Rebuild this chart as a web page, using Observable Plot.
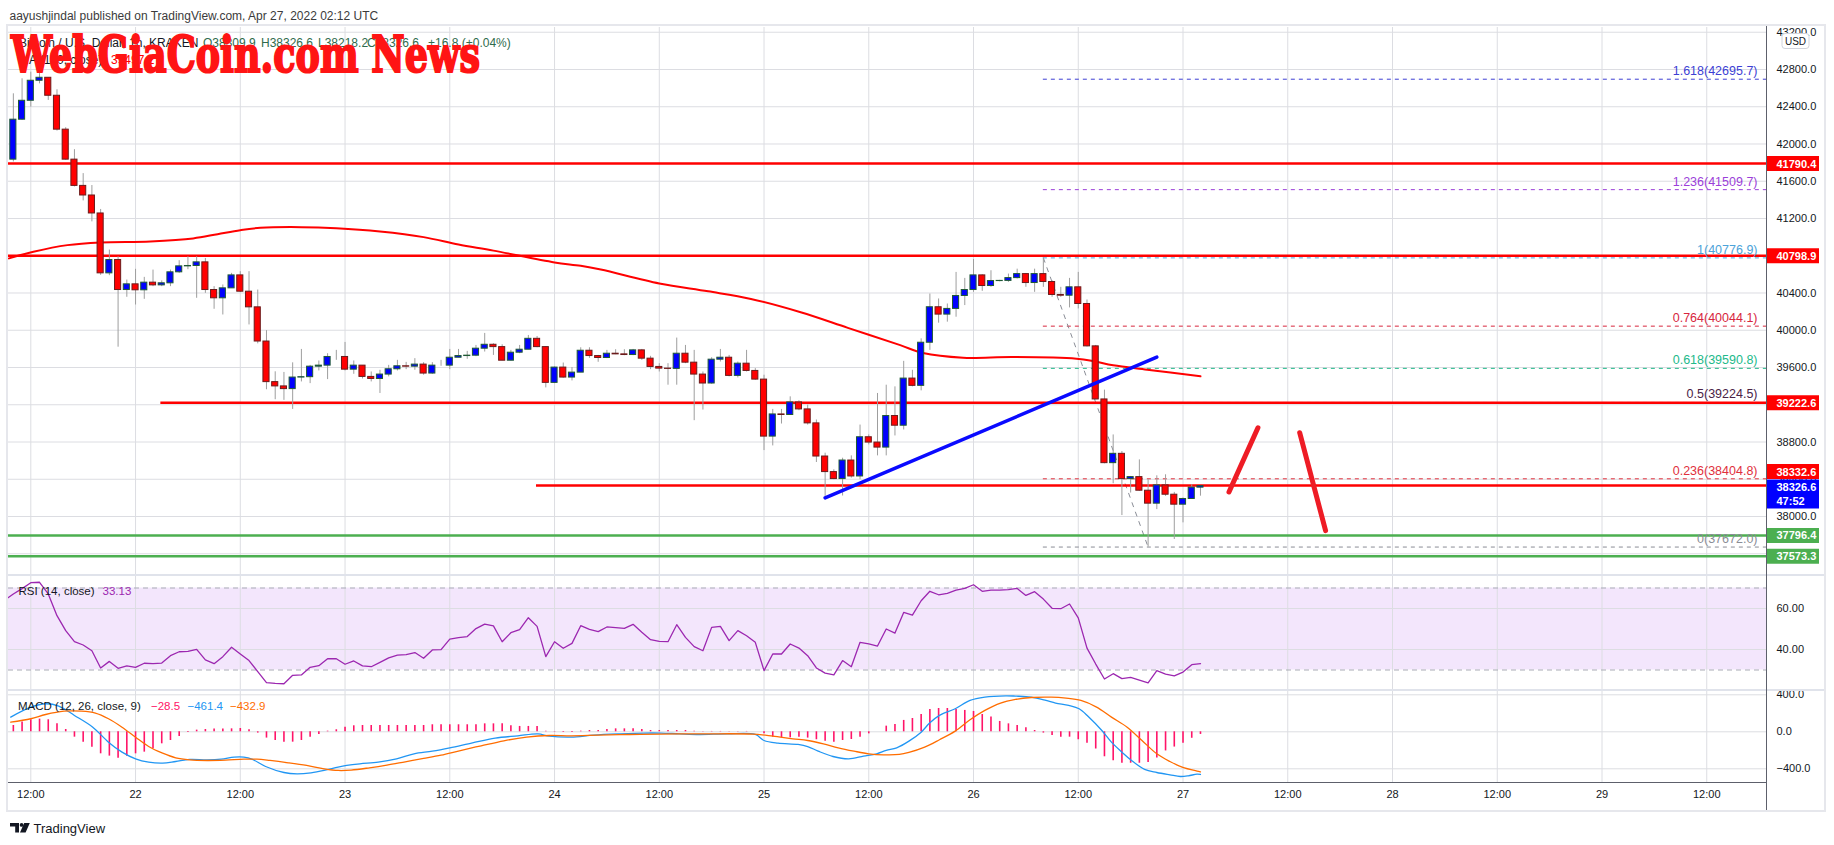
<!DOCTYPE html>
<html><head><meta charset="utf-8">
<script src="https://cdn.jsdelivr.net/npm/d3@7"></script>
<script src="https://cdn.jsdelivr.net/npm/@observablehq/plot@0.6"></script>
<style>
html,body{margin:0;padding:0;background:#fff;}
#wrap{position:relative;width:1834px;height:845px;overflow:hidden;background:#fff;font-family:"Liberation Sans",Arial,sans-serif;}
.ln{position:absolute;}
</style></head><body><div id="wrap"></div>
<script>
// ---------------- DATA ----------------
const candleStart = "2022-04-21T10:00:00Z";   // hourly candles, BTC/USD 1h KRAKEN
const firstOpen = 41832;
const lastOpen = 38309.9;
const closes = [42261,42464,42679,42711,42518,42154,41832,41550,41447,41254,40611,40754,40432,40493,
 40429,40511,40482,40504,40622,40686,40690,40729,40432,40343,40450,40589,40414,40246,39879,39443,39397,39368,39492,39496,39609,39620,39713,39713,
 39577,39620,39499,39477,39524,39581,39613,39609,39631,39535,39620,39620,39705,39723,39727,39802,39844,39819,39673,39759,39791,39908,39819,39435,
 39599,39492,39545,39780,39723,39702,39748,39741,39734,39784,39695,39606,39588,39585,39748,39652,39524,39428,39684,39705,39510,39641,39563,39470,
 38858,39096,39090,39225,39150,39000,38644,38477,38402,38601,38430,38851,38794,38740,39079,38975,39481,39403,39866,40247,40168,40229,40368,40432,
 40589,40475,40528,40530,40560,40603,40507,40603,40518,40379,40371,40461,40282,39827,39257,38573,38673,38402,38423,38277,38138,38334,38234,38127,
 38188,38310,38326.6];
const highs = [42539,42700,42771,42780,42711,42582,42175,41939,41682,41554,41297,40861,40789,40539,
 40654,40568,40646,40530,40646,40747,40789,40789,40771,40468,40486,40611,40629,40629,40432,39996,39554,39547,39650,39794,39623,39670,39748,39784,
 39869,39670,39620,39552,39570,39623,39677,39655,39695,39652,39652,39677,39794,39794,39773,39837,39966,39855,39844,39784,39837,39944,39933,39823,
 39606,39648,39599,39812,39812,39730,39784,39791,39791,39794,39794,39720,39641,39641,39916,39837,39784,39552,39705,39794,39730,39659,39784,39588,
 39517,39150,39150,39285,39243,39196,39036,38680,38502,38626,38651,38982,38876,39321,39410,39392,39666,39570,39908,40389,40336,40282,40621,40557,
 40760,40596,40639,40536,40603,40656,40610,40656,40777,40532,40461,40557,40621,40325,39837,39357,38876,38698,38430,38608,38395,38437,38448,38259,
 38199,38341,38326.6];
const lows = [41807,42254,42396,42646,42468,42139,41825,41539,41389,41164,40590,40586,39818,40354,
 40271,40332,40468,40468,40468,40611,40650,40343,40396,40225,40164,40450,40404,40057,39854,39361,39254,39247,39150,39445,39427,39563,39470,39677,
 39563,39527,39477,39445,39321,39499,39563,39577,39570,39517,39527,39613,39577,39705,39688,39716,39766,39730,39673,39670,39748,39791,39812,39381,
 39427,39485,39456,39545,39698,39656,39695,39738,39727,39727,39677,39577,39552,39410,39410,39641,39029,39143,39420,39659,39499,39488,39552,39463,
 38708,38758,38993,39089,39136,38982,38580,38216,38395,38220,38412,38395,38769,38651,38651,38865,38929,39392,39349,39784,40076,40087,40140,40265,
 40407,40418,40461,40520,40514,40550,40461,40407,40461,40354,40354,40240,40229,39820,39250,38566,38352,38010,38252,38270,37672,38074,38216,37753,
 37932,38188,38218.2];

// MA(100) read at these hours after 2022-04-21 00:00 UTC
const hourBase = "2022-04-21T00:00:00Z";
const maHours  = [9.5,12.3,16.2,20,25.7,30.6,33.4,36,38.3,43,47,52,57,61,65,72,75,77.3,84,89.6,94.5,100.2,105.6,111.6,114.2,118.8,124.5,131.8,133.7,136,139.9,146];
const maValues = [40772,40843,40914,40943,40954,40986,41032,41075,41100,41107,41095,41060,41000,40920,40855,40728,40692,40652,40503,40418,40336,40193,40026,39840,39755,39705,39713,39695,39670,39624,39577,39506];

// RSI(14) hourly
const rsiStart = "2022-04-21T09:00:00Z";
const rsiValues = [64.1,67.1,69.7,72.6,72.8,67.1,56.5,49.2,43.8,42.2,39.4,31.0,34.2,30.8,32.0,
 31.3,33.3,33.1,33.4,37.0,38.9,39.1,40.1,34.9,33.1,36.5,41.1,37.8,34.6,29.2,23.8,23.5,23.3,27.4,27.6,31.3,32.1,35.5,35.5,
 32.8,34.4,32.0,31.6,33.7,35.9,37.3,37.5,38.5,35.7,39.8,39.9,45.1,45.8,46.3,50.2,52.4,51.5,43.8,48.2,49.7,55.5,51.3,36.5,
 43.8,40.6,43.0,51.6,49.8,48.7,51.0,50.7,50.3,52.3,48.4,44.8,44.0,43.8,52.1,45.9,41.4,39.4,50.8,51.3,44.3,49.2,46.7,43.5,
 29.7,37.8,37.8,42.7,40.7,37.0,31.0,28.5,27.6,34.6,31.6,43.5,42.7,41.7,50.0,48.0,58.1,56.8,63.8,68.4,66.7,67.4,69.0,69.8,
 71.6,68.4,69.0,69.0,69.2,69.8,66.4,68.2,64.6,60.1,59.9,62.2,55.4,40.7,32.9,25.6,28.2,25.8,26.4,25.1,23.7,29.7,28.0,27.1,
 29.0,32.6,33.13];
const rsiBand = [30, 70];

// MACD(12,26,9)
const histStart = "2022-04-21T10:00:00Z";
const histValues = [68,105,130,137,130,86,25,-58,-112,-166,-238,-263,-285,-263,
 -238,-220,-184,-130,-94,-50,-7,18,25,29,29,32,36,22,-14,-68,-94,-112,-112,-94,-58,-29,7,22,
 50,65,68,68,68,68,68,68,68,68,76,76,76,76,76,76,86,86,86,65,58,58,58,7,
 -4,-7,-7,7,14,14,25,32,32,32,25,14,14,14,14,14,7,4,4,4,4,4,4,0,
 -22,-58,-65,-65,-58,-68,-86,-101,-112,-94,-83,-58,-22,0,61,79,123,144,187,241,252,252,241,231,
 220,187,159,112,86,68,43,14,-14,-40,-58,-58,-86,-123,-186,-270,-312,-340,-340,-340,-333,-284,-207,-165,
 -123,-70,-28.5];
const macdHours = [9.7,12,13.7,15.2,17,19.1,20.9,22.45,24,25.5,27.1,28.6,30.2,32.2,33.8,35.3,36.4,37.4,38.9,41,42.5,44.1,45.6,47.2,48.2,49.7,51.8,53.9,55.9,58,60,62.6,65.2,67.8,70.1,71.4,73.9,76.5,79.6,82.2,84.2,86.3,88.6,91.8,95,96,97.6,99.9,101,102.2,103.9,105.7,107.4,108.9,110,111.2,112.6,114,115,116.1,117.9,119.6,121.3,123.7,124.8,126.6,128.3,129.4,130.9,132.1,133.2,134.7,135.8,137,138.1,139.6,141,142.5,143.7,144.6,145.6,146];
const macdValues = [159,267,303,278,177,50,-112,-220,-292,-328,-339,-321,-299,-303,-296,-274,-274,-299,-375,-440,-454,-443,-418,-382,-364,-346,-328,-292,-238,-209,-173,-119,-68,-43,-22,-47,-58,-36,-22,-14,-14,-22,-29,-22,-29,-94,-123,-137,-159,-209,-267,-292,-263,-238,-202,-173,-101,-4,97,177,249,339,375,389,386,375,339,310,285,249,159,14,-112,-220,-310,-407,-440,-465,-483,-476,-458,-461.4];
const signalHours = [9.7,12,13.7,15.8,17.8,19.4,20.9,22.45,24,25.5,27.1,28.6,30.2,32.2,34.3,36.4,37.9,39.4,41.5,43.6,45.6,47.2,48.7,50.8,52.8,54.9,57,59,61.1,63.6,66.2,68.8,71.4,73.9,77,80.6,84.2,86.8,89.3,94.7,97,99.3,101,102.8,104.5,106.3,108,109.7,111.5,112.6,114.4,116.1,117.9,119.6,121.3,123.1,124.8,126.6,128.9,130.6,132.3,134.1,135.8,137.6,139.3,141,142.5,143.9,145.6,146];
const signalValues = [105,141,187,223,223,202,141,50,-58,-159,-231,-281,-303,-310,-306,-296,-296,-310,-335,-364,-400,-418,-414,-389,-360,-324,-288,-252,-205,-151,-97,-58,-40,-43,-36,-29,-25,-22,-22,-25,-47,-76,-94,-130,-173,-209,-238,-249,-245,-223,-166,-86,7,130,231,310,350,371,375,364,339,267,159,50,-94,-238,-321,-382,-425,-432.9];

// Drawn levels
const redLevelPrices = [41790.4, 40798.9, 39222.6, 38332.6];
const redLevelStarts = ["2022-04-21T09:26:42Z","2022-04-21T09:26:42Z","2022-04-22T02:54:00Z","2022-04-23T21:56:00Z"];
const greenLevelPrices = [37796.4, 37573.3];
const fibRatios = ["1.618","1.236","1","0.764","0.618","0.5","0.236","0"];
const fibPrices = [42695.7, 41509.7, 40776.9, 40044.1, 39590.8, 39224.5, 38404.8, 37672.0];
const fibColors = ["#3d3fd4","#9b3fd9","#4da3d9","#d7263d","#22b98a","#4a2346","#e0303c","#8a8d96"];
const fibStart = "2022-04-26T08:00:00Z";
const fibTrendTimes = ["2022-04-26T08:00:00Z","2022-04-26T20:00:00Z"];
const fibTrendPrices = [40776.9, 37672.0];
const blueTrendTimes = ["2022-04-25T07:00:00Z","2022-04-26T21:00:00Z"];
const blueTrendPrices = [38200, 39711];
const arrowTimes = [["2022-04-27T05:16:00Z","2022-04-27T08:35:00Z"],["2022-04-27T13:22:00Z","2022-04-27T16:20:00Z"]];
const arrowPrices = [[38264, 38953],[38900, 37848]];

// Axis
const priceTicks = [37600,38000,38400,38800,39200,39600,40000,40400,40800,41200,41600,42000,42400,42800,43200];
const rsiTicks = [40, 60];
const macdTicks = [-400, 0, 400];
const timeTicks = ["2022-04-21T12:00Z","2022-04-22T00:00Z","2022-04-22T12:00Z","2022-04-23T00:00Z","2022-04-23T12:00Z","2022-04-24T00:00Z","2022-04-24T12:00Z","2022-04-25T00:00Z","2022-04-25T12:00Z","2022-04-26T00:00Z","2022-04-26T12:00Z","2022-04-27T00:00Z","2022-04-27T12:00Z","2022-04-28T00:00Z","2022-04-28T12:00Z","2022-04-29T00:00Z","2022-04-29T12:00Z"];
const timeTickLabels = ["12:00","22","12:00","23","12:00","24","12:00","25","12:00","26","12:00","27","12:00","28","12:00","29","12:00"];
const xDomain = ["2022-04-21T09:26:42Z","2022-04-29T18:57:36Z"];

// Price tags on the right axis
const tagPrices = [41790.4, 40798.9, 39222.6, 38332.6, 37796.4, 37573.3];
const tagColors = ["#ff0000","#ff0000","#ff0000","#ff0000","#4caf50","#4caf50"];
const tagShift  = [0,0,0,-14,0,0];
const lastPrice = 38326.6, lastCountdown = "47:52";

// ---------------- BUILD ----------------
const HOUR = 3600e3;
const base = Date.parse(hourBase);
const hd = h => new Date(base + h * HOUR);
const X0 = new Date(xDomain[0]), X1 = new Date(xDomain[1]);
const pxPerHour = 1759 / ((X1 - X0) / HOUR);
const T0 = Date.parse(candleStart);
const candles = closes.map((c, i) => {
  const open = i === 0 ? firstOpen : (i === closes.length - 1 ? lastOpen : closes[i - 1]);
  return {t: new Date(T0 + i * HOUR), t1: new Date(T0 + i * HOUR - 21 * 60e3), t2: new Date(T0 + i * HOUR + 21 * 60e3),
          open, close: c, high: highs[i], low: lows[i]};
});
const up = candles.filter(d => d.close >= d.open);
const down = candles.filter(d => d.close < d.open);
const ma = maHours.map((h, i) => ({t: hd(h), v: maValues[i]}));
const rsi = rsiValues.map((v, i) => ({t: new Date(Date.parse(rsiStart) + i * HOUR), v}));
const hist = histValues.map((v, i) => ({t: new Date(Date.parse(histStart) + i * HOUR), v}));
const macd = macdHours.map((h, i) => ({t: hd(h), v: macdValues[i]}));
const signal = signalHours.map((h, i) => ({t: hd(h), v: signalValues[i]}));
const tTicks = timeTicks.map(d => new Date(d));
const tickLabelMap = new Map(tTicks.map((d, i) => [+d, timeTickLabels[i]]));
const boxEnd = new Date(+X1 + 52 / pxPerHour * HOUR);

const GRID = "#dcdde2";
const FONT = "'Liberation Sans', Arial, sans-serif";
const baseStyle = {background: "transparent", fontFamily: FONT, fontSize: "11px", color: "#131722", overflow: "hidden"};
const wrap = document.getElementById("wrap");
function place(el, left, top) { el.style.position = "absolute"; el.style.left = left + "px"; el.style.top = top + "px"; wrap.appendChild(el); }
function line(left, top, w, h, color) { const d = document.createElement("div"); d.className = "ln"; Object.assign(d.style, {left: left + "px", top: top + "px", width: w + "px", height: h + "px", background: color}); wrap.appendChild(d); }

// outer frame
const frame = document.createElement("div");
Object.assign(frame.style, {position: "absolute", left: "6px", top: "24px", width: "1820px", height: "788px", border: "2px solid #e6e7ec", boxSizing: "border-box"});
wrap.appendChild(frame);

// ---- main pane ----
const fibMarks = [];
fibPrices.forEach((p, i) => {
  const row = [{p, a: new Date(fibStart), b: X1}];
  fibMarks.push(Plot.ruleY(row, {y: "p", x1: "a", x2: "b", stroke: fibColors[i], strokeWidth: 1, strokeDasharray: "4,4"}));
});
const fibLabels = fibPrices.map((p, i) => Plot.text([{p, label: `${fibRatios[i]}(${p.toFixed(1)})`}],
  {y: "p", text: "label", frameAnchor: "right", textAnchor: "end", dx: -10, dy: -8, fill: fibColors[i], fontSize: 12.5}));

const redRows = redLevelPrices.map((p, i) => ({p, a: new Date(redLevelStarts[i]), b: X1}));
const greenRows = greenLevelPrices.map(p => ({p, a: X0, b: X1}));
const tagMarks = [];
tagPrices.forEach((p, i) => {
  const row = [{p, a: X1, b: boxEnd, label: p.toFixed(1)}];
  tagMarks.push(Plot.ruleY(row, {y: "p", x1: "a", x2: "b", stroke: tagColors[i], strokeWidth: 15, dy: tagShift[i]}));
  tagMarks.push(Plot.text(row, {y: "p", text: "label", frameAnchor: "right", textAnchor: "start", dx: 9, dy: tagShift[i] + 0.5, fill: "#fff", fontWeight: "bold", fontSize: 11}));
});
const lastRow = [{p: lastPrice, a: X1, b: boxEnd, label: lastPrice.toFixed(1), cd: lastCountdown}];
tagMarks.push(Plot.ruleY(lastRow, {y: "p", x1: "a", x2: "b", stroke: "#0000ff", strokeWidth: 29, dy: 8}));
tagMarks.push(Plot.text(lastRow, {y: "p", text: "label", frameAnchor: "right", textAnchor: "start", dx: 9, dy: 1.5, fill: "#fff", fontWeight: "bold", fontSize: 11}));
tagMarks.push(Plot.text(lastRow, {y: "p", text: "cd", frameAnchor: "right", textAnchor: "start", dx: 9, dy: 15, fill: "#fff", fontWeight: "bold", fontSize: 11}));

const mainPlot = Plot.plot({
  width: 1815, height: 548, marginLeft: 0, marginRight: 56, marginTop: 0, marginBottom: 0,
  style: baseStyle,
  x: {type: "utc", domain: [X0, X1], axis: null},
  y: {domain: [37366.5, 43250.9], axis: "right", ticks: priceTicks, tickFormat: d3.format(".1f"), tickSize: 0, tickPadding: 9, label: null},
  marks: [
    Plot.ruleY(priceTicks, {stroke: GRID}),
    Plot.ruleX(tTicks, {stroke: GRID}),
    ...fibMarks,
    Plot.link([{a: new Date(fibTrendTimes[0]), b: new Date(fibTrendTimes[1]), p: fibTrendPrices[0], q: fibTrendPrices[1]}],
      {x1: "a", x2: "b", y1: "p", y2: "q", stroke: "#8a8d96", strokeWidth: 1, strokeDasharray: "5,5"}),
    Plot.line(ma, {x: "t", y: "v", stroke: "#ff0000", strokeWidth: 2, curve: "catmull-rom", clip: true}),
    Plot.ruleY(greenRows, {y: "p", x1: "a", x2: "b", stroke: "#4caf50", strokeWidth: 2.5}),
    Plot.ruleY(redRows, {y: "p", x1: "a", x2: "b", stroke: "#ff0000", strokeWidth: 2.5}),
    Plot.ruleX(candles, {x: "t", y1: "low", y2: "high", stroke: "#9e9e9e", strokeWidth: 1}),
    Plot.rect(up, {x1: "t1", x2: "t2", y1: "open", y2: "close", fill: "#0000ff", stroke: "#1f5a33", strokeWidth: 1}),
    Plot.rect(down, {x1: "t1", x2: "t2", y1: "open", y2: "close", fill: "#ff0000", stroke: "#6b1b1b", strokeWidth: 1}),
    Plot.link([{a: new Date(blueTrendTimes[0]), b: new Date(blueTrendTimes[1]), p: blueTrendPrices[0], q: blueTrendPrices[1]}],
      {x1: "a", x2: "b", y1: "p", y2: "q", stroke: "#0a0aff", strokeWidth: 3.5, strokeLinecap: "round"}),
    Plot.link(arrowTimes.map((ts, i) => ({a: new Date(ts[0]), b: new Date(ts[1]), p: arrowPrices[i][0], q: arrowPrices[i][1]})),
      {x1: "a", x2: "b", y1: "p", y2: "q", stroke: "#ee1c25", strokeWidth: 5, strokeLinecap: "round"}),
    ...fibLabels,
    ...tagMarks
  ]
});
place(mainPlot, 8, 27);

// ---- RSI pane ----
const rsiPlot = Plot.plot({
  width: 1815, height: 115, marginLeft: 0, marginRight: 56, marginTop: 0, marginBottom: 0,
  style: baseStyle,
  x: {type: "utc", domain: [X0, X1], axis: null},
  y: {domain: [20, 76.1], axis: "right", ticks: rsiTicks, tickFormat: d3.format(".2f"), tickSize: 0, tickPadding: 9, label: null},
  marks: [
    Plot.rect([{a: X0, b: X1, lo: rsiBand[0], hi: rsiBand[1]}], {x1: "a", x2: "b", y1: "lo", y2: "hi", fill: "#f3e6fc"}),
    Plot.ruleY(rsiTicks, {stroke: GRID}),
    Plot.ruleX(tTicks, {stroke: GRID}),
    Plot.ruleY(rsiBand, {stroke: "#a9acb5", strokeDasharray: "5,4"}),
    Plot.line(rsi, {x: "t", y: "v", stroke: "#9c27b0", strokeWidth: 1.3, clip: true})
  ]
});
place(rsiPlot, 8, 575);

// ---- MACD pane ----
const macdPlot = Plot.plot({
  width: 1815, height: 120, marginLeft: 0, marginRight: 56, marginTop: 0, marginBottom: 28,
  style: baseStyle,
  x: {type: "utc", domain: [X0, X1], axis: "bottom", ticks: tTicks, tickFormat: d => tickLabelMap.get(+d) || "", tickSize: 0, tickPadding: 8, label: null},
  y: {domain: [-548.1, 446.5], axis: "right", ticks: macdTicks, tickFormat: d3.format(".1f"), tickSize: 0, tickPadding: 9, label: null},
  marks: [
    Plot.ruleY(macdTicks, {stroke: GRID}),
    Plot.ruleX(tTicks, {stroke: GRID}),
    Plot.ruleX(hist, {x: "t", y1: 0, y2: "v", stroke: "#ff1468", strokeWidth: 1.6}),
    Plot.line(macd, {x: "t", y: "v", stroke: "#2196f3", strokeWidth: 1.3, curve: "catmull-rom", clip: true}),
    Plot.line(signal, {x: "t", y: "v", stroke: "#ff6d00", strokeWidth: 1.3, curve: "catmull-rom", clip: true})
  ]
});
place(macdPlot, 8, 690);

// chrome lines
line(8, 574, 1816, 2, "#e0e3eb");
line(8, 689, 1816, 2, "#e0e3eb");
line(1766, 26, 1, 784, "#5d606b");
line(8, 782, 1759, 1, "#5d606b");

// ---- text overlay ----
const NS = "http://www.w3.org/2000/svg";
const ov = document.createElementNS(NS, "svg");
ov.setAttribute("width", 1834); ov.setAttribute("height", 845);
Object.assign(ov.style, {position: "absolute", left: "0px", top: "0px", pointerEvents: "none", fontFamily: FONT});
wrap.appendChild(ov);
function txt(x, y, s, attrs = {}) {
  const t = document.createElementNS(NS, "text");
  t.setAttribute("x", x); t.setAttribute("y", y); t.textContent = s;
  for (const k in attrs) t.setAttribute(k, attrs[k]);
  ov.appendChild(t); return t;
}
txt(9.5, 19.5, "aayushjindal published on TradingView.com, Apr 27, 2022 02:12 UTC", {"font-size": 12, fill: "#3b3b3b"});
// main legend
txt(19, 46.5, "Bitcoin / U.S. Dollar, 1h, KRAKEN", {"font-size": 12, fill: "#131722"});
txt(203, 46.5, "O38309.9", {"font-size": 12, fill: "#2f6b4c"});
txt(261, 46.5, "H38326.6", {"font-size": 12, fill: "#2f6b4c"});
txt(318, 46.5, "L38218.2", {"font-size": 12, fill: "#2f6b4c"});
txt(367, 46.5, "C38326.6", {"font-size": 12, fill: "#2f6b4c"});
txt(428, 46.5, "+16.8 (+0.04%)", {"font-size": 12, fill: "#2f6b4c"});
txt(19, 64, "MA (100, close)", {"font-size": 12, fill: "#131722"});
txt(111, 64, "39497.2", {"font-size": 12, fill: "#ff0000"});
// watermark
txt(11, 72, "WebGiaCoin.com News", {"font-size": 51, "font-weight": "bold", "font-family": "'DejaVu Serif', serif", fill: "#ff1414", stroke: "#ff1414", "stroke-width": 2.2, "stroke-linejoin": "miter", textLength: 469, lengthAdjust: "spacingAndGlyphs"});
// RSI legend
txt(18.5, 595, "RSI (14, close)", {"font-size": 11.5, fill: "#131722"});
txt(102.5, 595, "33.13", {"font-size": 11.5, fill: "#9c27b0"});
// MACD legend
txt(18, 710, "MACD (12, 26, close, 9)", {"font-size": 11.5, fill: "#131722"});
txt(151, 710, "\u221228.5", {"font-size": 11.5, fill: "#ff1468"});
txt(187.5, 710, "\u2212461.4", {"font-size": 11.5, fill: "#2196f3"});
txt(230, 710, "\u2212432.9", {"font-size": 11.5, fill: "#ff6d00"});
// USD badge
const r = document.createElementNS(NS, "rect");
r.setAttribute("x", 1782); r.setAttribute("y", 33.5); r.setAttribute("width", 27); r.setAttribute("height", 15); r.setAttribute("rx", 3);
r.setAttribute("fill", "#fff"); r.setAttribute("stroke", "#d1d4dc");
ov.appendChild(r);
txt(1795.5, 44.5, "USD", {"font-size": 10, fill: "#131722", "text-anchor": "middle"});
// TradingView logo
const logo = document.createElementNS(NS, "path");
logo.setAttribute("d", "M10 823 H19 V832.5 H15.2 V826.6 H10 Z M24.2 823 H29.8 L25.6 832.5 H20 Z");
logo.setAttribute("fill", "#131722");
ov.appendChild(logo);
const dot = document.createElementNS(NS, "circle");
dot.setAttribute("cx", 21.6); dot.setAttribute("cy", 824.9); dot.setAttribute("r", 1.9); dot.setAttribute("fill", "#131722");
ov.appendChild(dot);
txt(33.5, 832.5, "TradingView", {"font-size": 13, fill: "#131722"});
</script></body></html>
